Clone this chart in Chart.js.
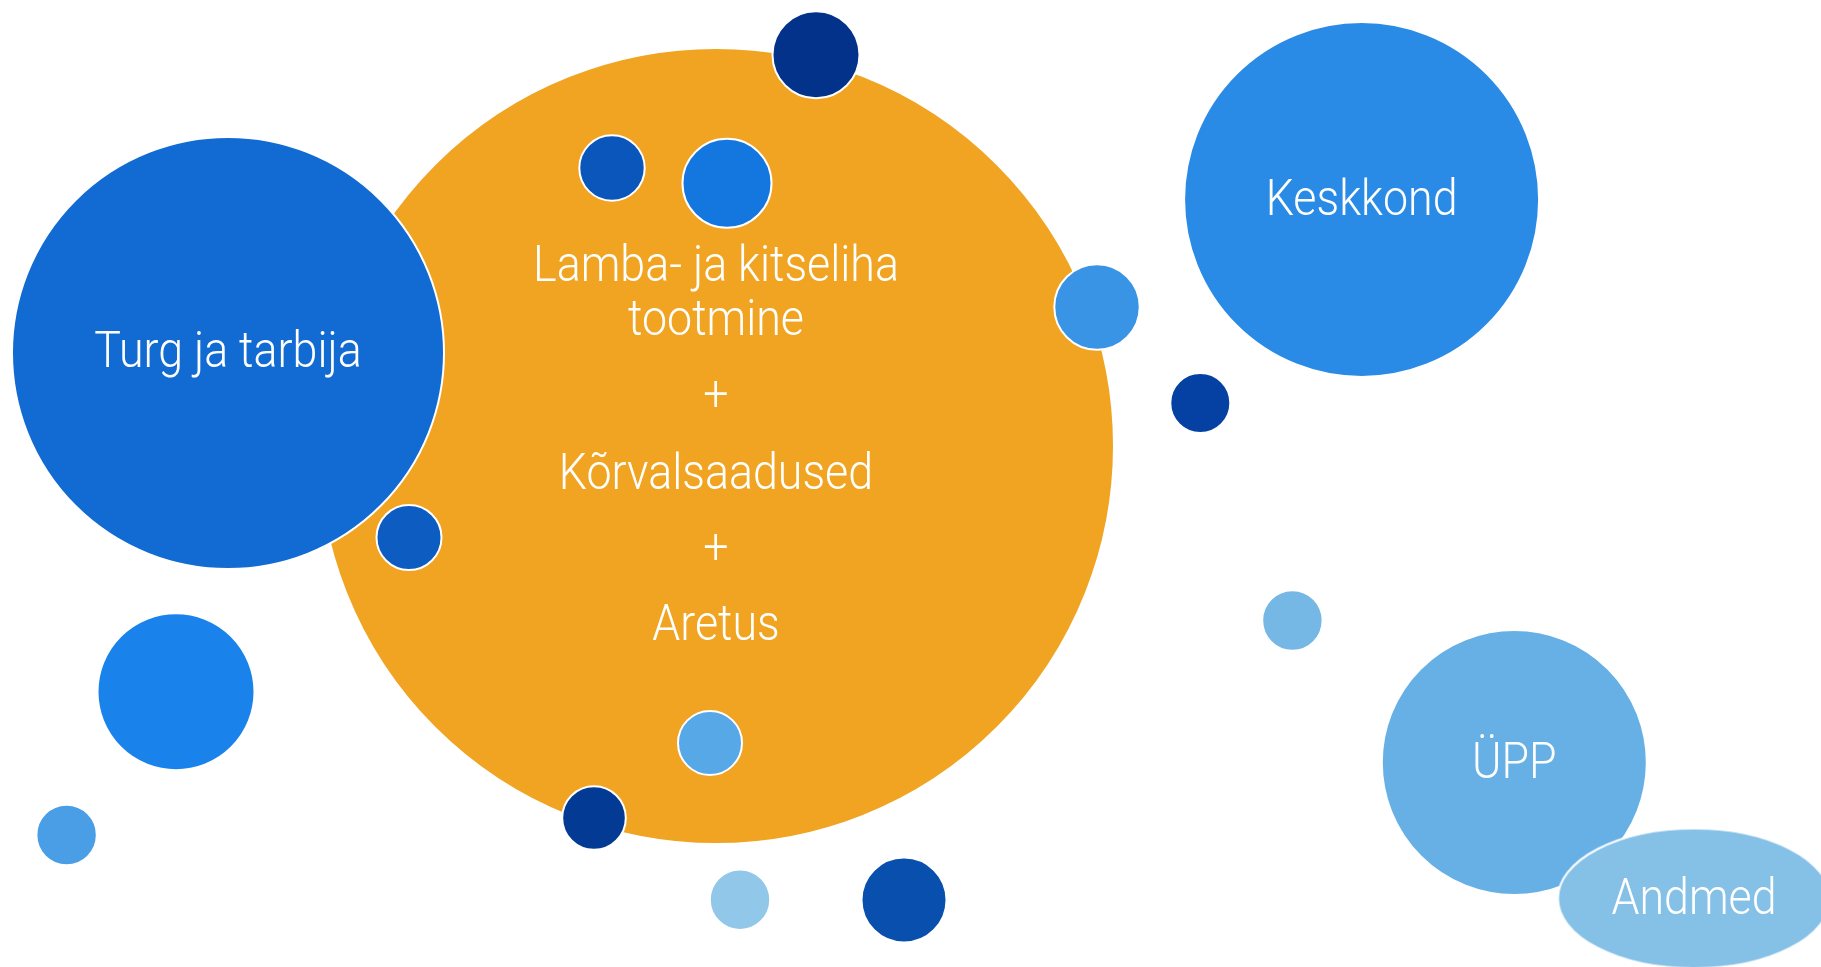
<!DOCTYPE html>
<html>
<head>
<meta charset="utf-8">
<script src="https://cdn.jsdelivr.net/npm/chart.js@4.4.1/dist/chart.umd.min.js"></script>
<style>
html,body{margin:0;padding:0;background:#ffffff;overflow:hidden}
#wrap{position:relative;width:1821px;height:967px}
</style>
</head>
<body>
<div id="wrap"><canvas id="c" width="1821" height="967"></canvas></div>
<script>
// ---- data ----
const bubbleLabels = [
  ['Lamba- ja kitseliha', 'tootmine', '+', 'Kõrvalsaadused', '+', 'Aretus'],
  ['Turg ja tarbija'], [], [], [], [],
  ['Keskkond'], [], [], [],
  ['ÜPP'], ['Andmed'],
  [], [], [], [], [], []
];
const bubbleX = [716, 228, 816, 612, 727, 1097, 1361.6, 1200.3, 409, 1292.4, 1514.3, 1694, 176, 66.6, 710, 594, 740, 904];
const bubbleY = [446, 353, 54.7, 168, 183.3, 307, 199.5, 403, 537.5, 620.5, 762.5, 898.5, 691.7, 835, 743, 818, 899.7, 900];
const bubbleR = [398, 216, 43.5, 32.7, 44.5, 42.7, 177.5, 30, 32.5, 30.2, 132.5, 71, 78.5, 30.2, 32, 31.8, 30.2, 42.5];
const bubbleColors = ['#F0A422', '#116BD3', '#02328A', '#0B56BB', '#1477DF', '#3A94E5', '#2A8BE6', '#0540A3', '#0C5CC1', '#75B7E5', '#66B0E6', '#85C0E7', '#1A83EB', '#4A9EE6', '#57A8E7', '#033A94', '#91C7E8', '#084FAE'];
const bubbleShapes = ['circle','circle','circle','circle','circle','circle','circle','circle','circle','circle','circle','ellipse','circle','circle','circle','circle','circle','circle'];
// ellipse horizontal stretch for the "Andmed" shape
const ellipseAspect = 1.93;

// ---- ellipse point style ----
function ellipseStyle(color, ry) {
  const rx = ry * ellipseAspect;
  const cv = document.createElement('canvas');
  cv.width = Math.ceil(rx * 2 + 4);
  cv.height = Math.ceil(ry * 2 + 4);
  const c = cv.getContext('2d');
  c.beginPath();
  c.ellipse(cv.width / 2, cv.height / 2, rx - 1, ry - 1, 0, 0, Math.PI * 2);
  c.fillStyle = color;
  c.fill();
  c.lineWidth = 2;
  c.strokeStyle = '#ffffff';
  c.stroke();
  return cv;
}
const pointStyles = bubbleShapes.map((s, i) => s === 'ellipse' ? ellipseStyle(bubbleColors[i], bubbleR[i]) : 'circle');

const labelPlugin = {
  id: 'bubbleText',
  afterDatasetsDraw(chart) {
    const ctx = chart.ctx;
    const meta = chart.getDatasetMeta(0);
    const sx = 0.895;
    ctx.save();
    ctx.fillStyle = '#ffffff';
    ctx.font = '300 50px Roboto';
    ctx.textAlign = 'center';
    meta.data.forEach((el, i) => {
      const lines = bubbleLabels[i];
      if (!lines.length) return;
      let offsets;
      if (lines.length === 6) offsets = [-165, -111, -49, 43, 104, 194];
      else offsets = [i === 1 ? 14 : 15.5];
      lines.forEach((t, k) => {
        ctx.save();
        ctx.translate(el.x, el.y + offsets[k]);
        ctx.scale(sx, 1);
        ctx.textBaseline = (t === '+') ? 'middle' : 'alphabetic';
        ctx.fillText(t, 0, 0);
        ctx.restore();
      });
    });
    ctx.restore();
  }
};

function draw() {
  new Chart(document.getElementById('c'), {
    type: 'bubble',
    data: {
      datasets: [{
        data: bubbleX.map((x, i) => ({ x: x, y: bubbleY[i], r: bubbleR[i] })),
        backgroundColor: bubbleColors,
        borderColor: '#ffffff',
        borderWidth: 2,
        pointStyle: pointStyles,
        clip: false
      }]
    },
    options: {
      responsive: false,
      animation: false,
      devicePixelRatio: 1,
      events: [],
      layout: { padding: 0, autoPadding: false },
      plugins: { legend: { display: false }, tooltip: { enabled: false } },
      scales: {
        x: { type: 'linear', min: 0, max: 1821, display: false },
        y: { type: 'linear', min: 0, max: 967, reverse: true, display: false }
      }
    },
    plugins: [labelPlugin]
  });
}
if (document.fonts && document.fonts.load) {
  document.fonts.load('300 50px Roboto').then(draw, draw);
} else {
  draw();
}
</script>
</body>
</html>
